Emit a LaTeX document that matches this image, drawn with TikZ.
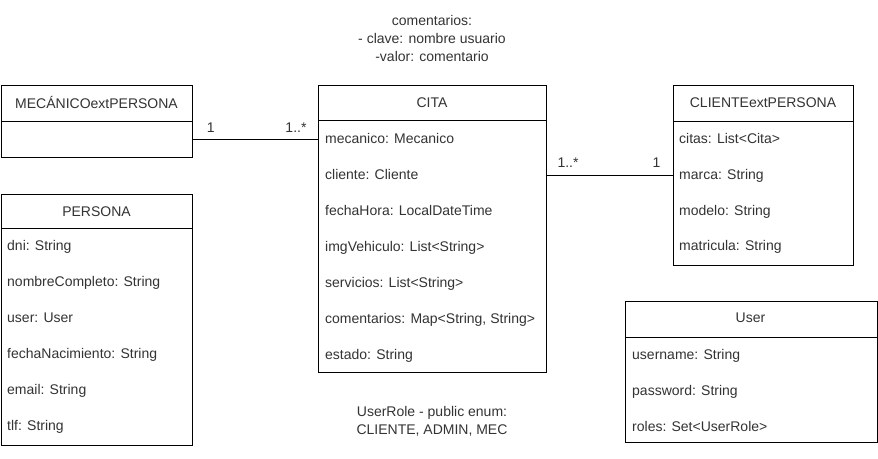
\documentclass[tikz,border=0pt]{standalone}
\usepackage{fontspec}
\setmainfont{Liberation Sans}
\definecolor{txt}{HTML}{333333}
\begin{document}
\begin{tikzpicture}[x=1pt,y=-1pt,
  box/.style={draw=black, line width=1pt, fill=white, inner sep=0, anchor=north west},
  hdr/.style={draw=black, line width=1pt},
  lbl/.style={font=\fontsize{14}{18}\selectfont, text=txt, inner sep=0},
  row/.style={lbl, anchor=base west},
  ttl/.style={lbl, anchor=base},
  conn/.style={draw=black, line width=1pt}]
\useasboundingbox (0,0) rectangle (878,458);

% MECANICO
\node[box, minimum width=191, minimum height=72] (mec) at (1,85) {};
\node[box, draw=none, fill=none, minimum width=191, minimum height=36] (mecbody) at (1,121) {};
\draw[hdr] (mec.west |- 0,121) -- (mec.east |- 0,121);
\node[ttl] (mect) at (96.5,108) {MECÁNICOextPERSONA};

% CITA
\node[box, minimum width=228, minimum height=287] (cita) at (318,85) {};
\draw[hdr] (cita.west |- 0,120.5) -- (cita.east |- 0,120.5);
\node[ttl] (citat) at (432,107.5) {CITA};
\node[row] (c1) at (325,143) {mecanico: Mecanico};
\node[row] (c2) at (325,179) {cliente: Cliente};
\node[row] (c3) at (325,215) {fechaHora: LocalDateTime};
\node[row] (c4) at (325,251) {imgVehiculo: List<String>};
\node[row] (c5) at (325,287) {servicios: List<String>};
\node[row] (c6) at (325,323) {comentarios: Map<String, String>};
\node[row] (c7) at (325,359) {estado: String};
\coordinate (crow) at (0,175);

% CLIENTE
\node[box, minimum width=180, minimum height=179.5] (cli) at (673,85) {};
\draw[hdr] (cli.west |- 0,121) -- (cli.east |- 0,121);
\node[ttl] (clit) at (763,107.5) {CLIENTEextPERSONA};
\node[row] (l1) at (679,143.3) {citas: List<Cita>};
\node[row] (l2) at (679,179.3) {marca: String};
\node[row] (l3) at (679,215) {modelo: String};
\node[row] (l4) at (679,250.7) {matricula: String};

% PERSONA
\node[box, minimum width=191, minimum height=251] (per) at (1,193.5) {};
\draw[hdr] (per.west |- 0,228) -- (per.east |- 0,228);
\node[ttl] (pert) at (96.5,216.7) {PERSONA};
\node[row] (p1) at (7,250.7) {dni: String};
\node[row] (p2) at (7,286.7) {nombreCompleto: String};
\node[row] (p3) at (7,322.7) {user: User};
\node[row] (p4) at (7,358.7) {fechaNacimiento: String};
\node[row] (p5) at (7,394.7) {email: String};
\node[row] (p6) at (7,430.5) {tlf: String};

% User
\node[box, minimum width=251.5, minimum height=141] (usr) at (625,301) {};
\draw[hdr] (usr.west |- 0,337) -- (usr.east |- 0,337);
\node[ttl] (usrt) at (750.5,322.7) {User};
\node[row] (u1) at (632,359.3) {username: String};
\node[row] (u2) at (632,395) {password: String};
\node[row] (u3) at (632,431) {roles: Set<UserRole>};

% connectors
\draw[conn] (mecbody.east) -- (mecbody.east -| cita.west);
\node[ttl] (m1) at (210.8,132.7) {1};
\node[ttl] (m2) at (296,132.7) {1..*};
\draw[conn] (cita.east |- crow) -- (cli.west |- crow);
\node[ttl] (k1) at (568,167.3) {1..*};
\node[ttl] (k2) at (656.5,167.3) {1};

% notes
\node[lbl, align=center, anchor=base] (note1) at (432,61) {comentarios:\\- clave: nombre usuario\\-valor: comentario};
\node[lbl, align=center, anchor=base] (note2) at (432,434.3) {UserRole - public enum:\\CLIENTE, ADMIN, MEC};
\end{tikzpicture}
\end{document}
